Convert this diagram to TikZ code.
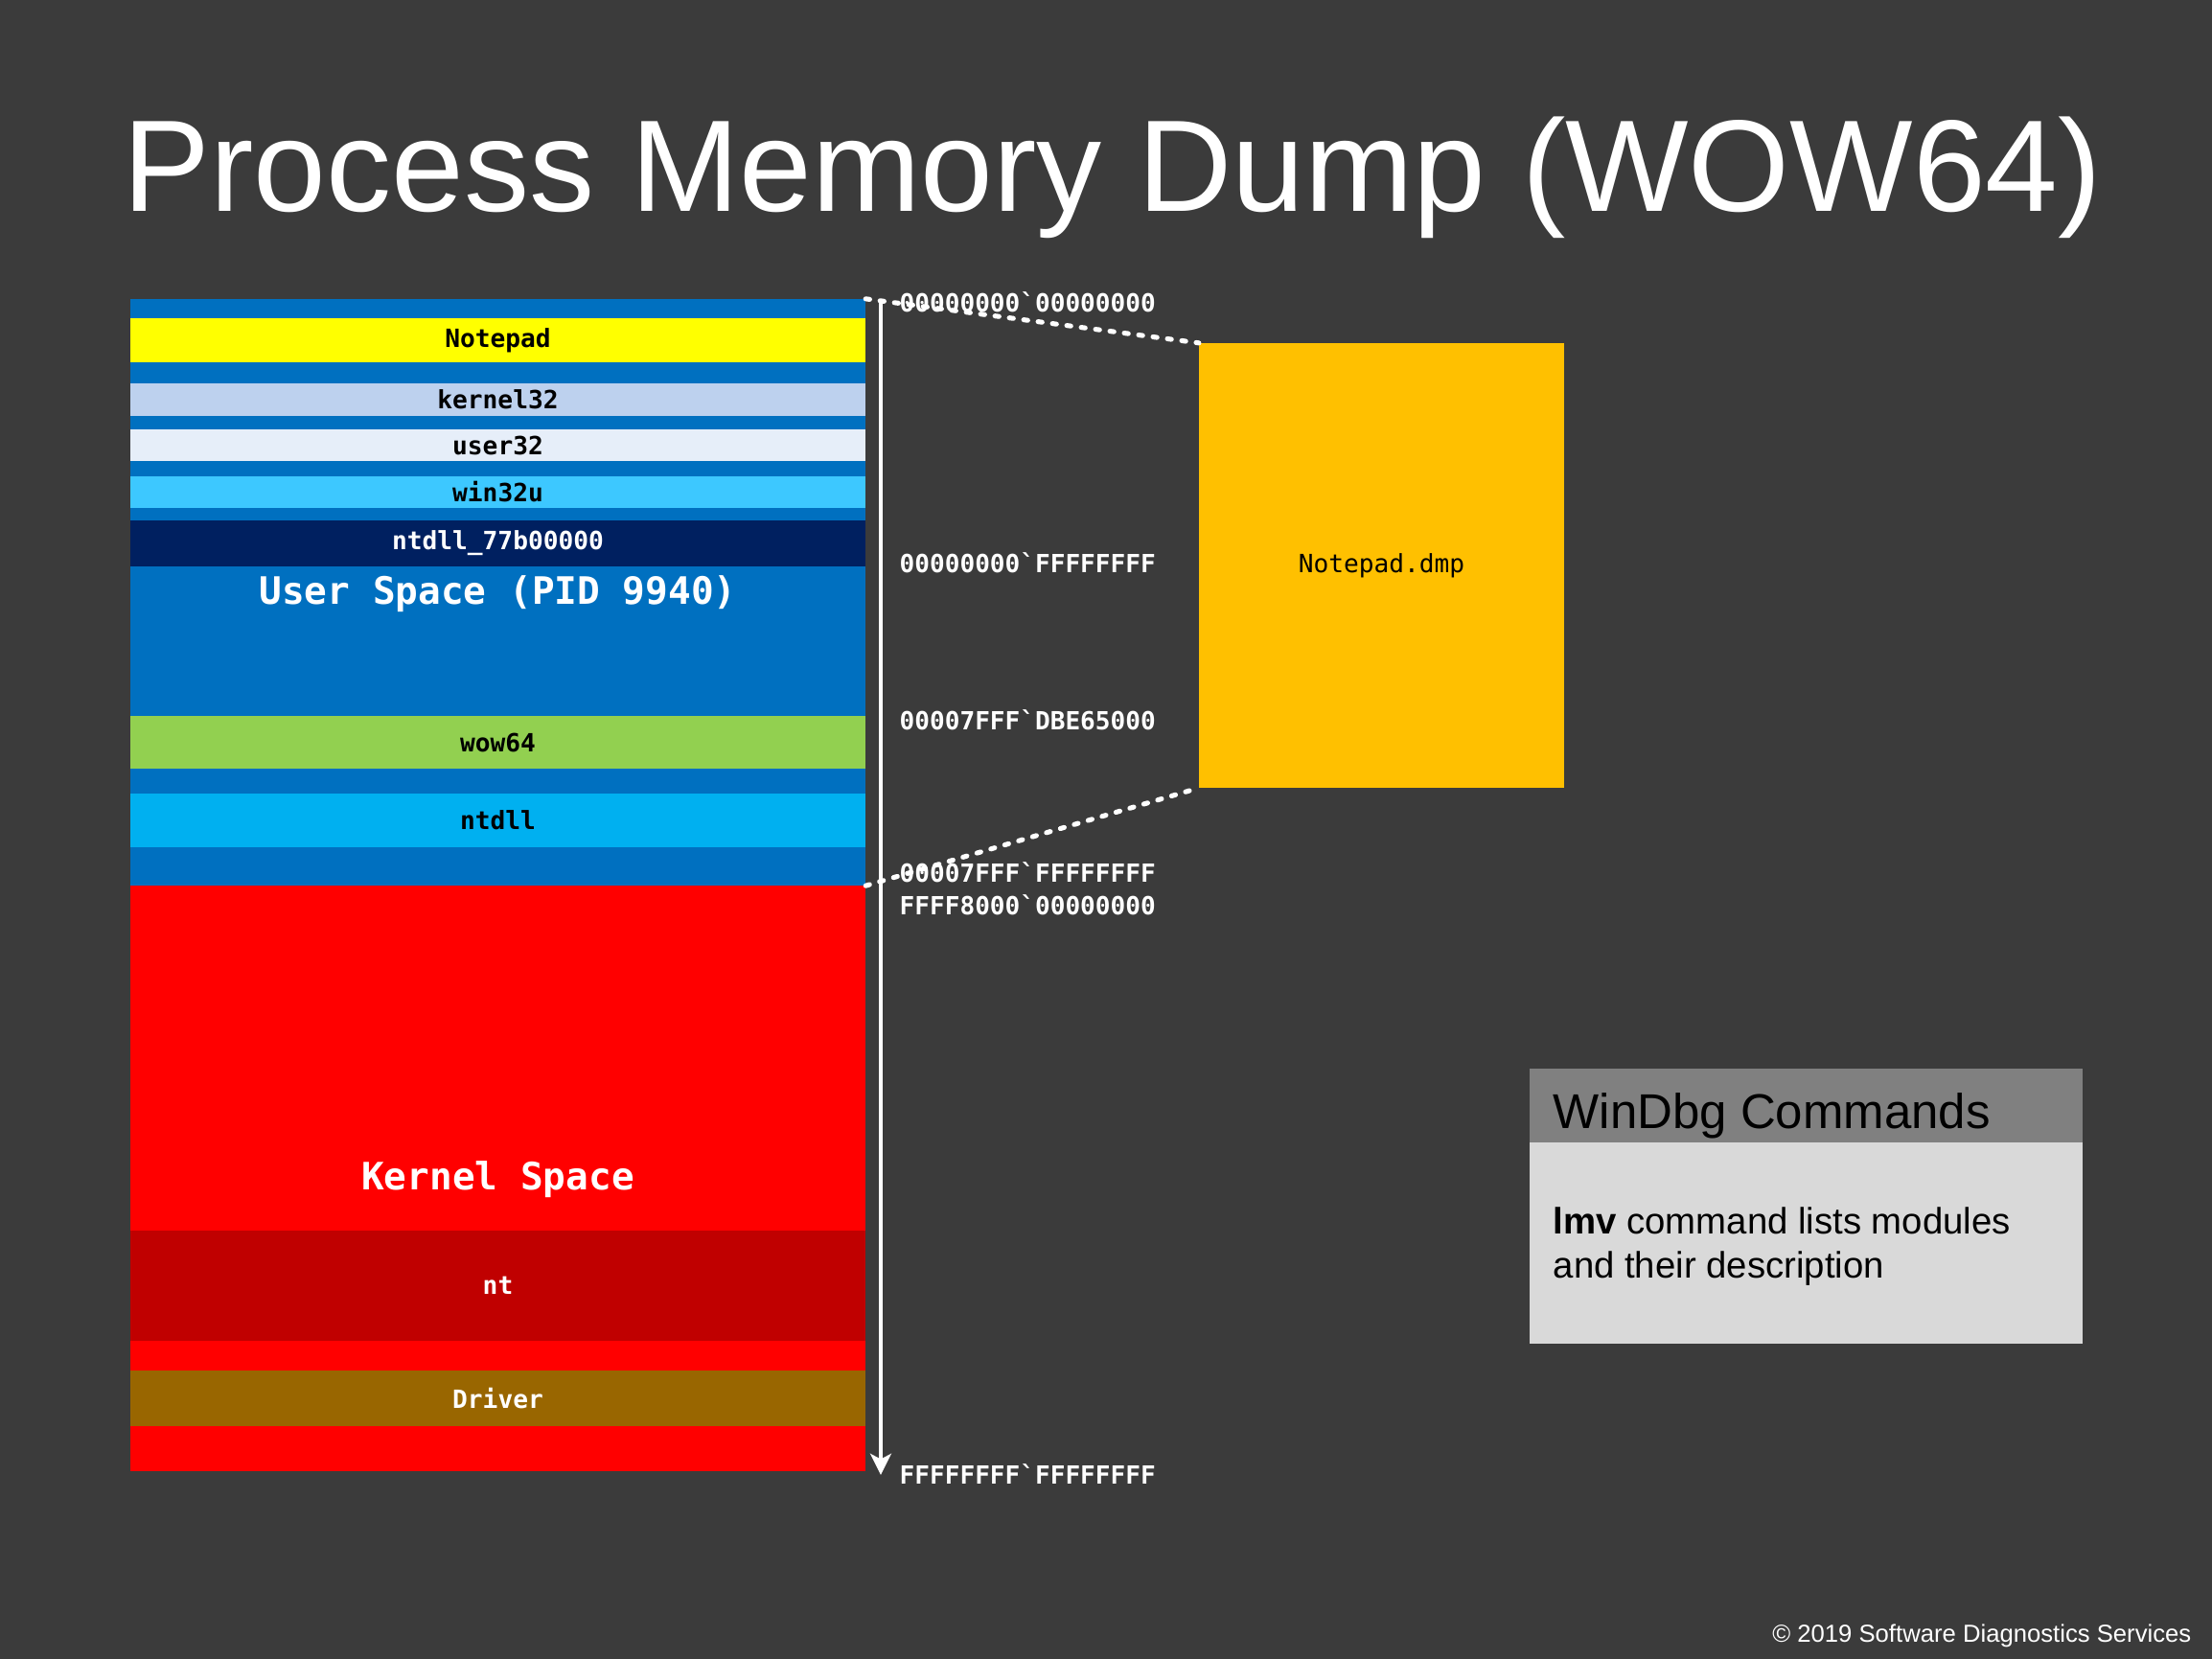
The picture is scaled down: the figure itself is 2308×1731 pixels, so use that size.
\documentclass[tikz,border=0pt]{standalone}
\usepackage{fontspec}
\setmainfont{Liberation Sans}
\newfontfamily\codefont{DejaVu Sans Mono}
\usetikzlibrary{positioning, arrows.meta}
\definecolor{slidebg}{RGB}{59,59,59}
\definecolor{userblue}{RGB}{0,112,192}
\definecolor{kernred}{RGB}{255,0,0}
\definecolor{modyellow}{RGB}{255,255,0}
\definecolor{modk32}{RGB}{189,209,238}
\definecolor{modu32}{RGB}{230,238,249}
\definecolor{modw32}{RGB}{61,200,255}
\definecolor{modnavy}{RGB}{0,32,96}
\definecolor{modwow}{RGB}{146,208,80}
\definecolor{modntdll}{RGB}{0,176,240}
\definecolor{modnt}{RGB}{192,0,0}
\definecolor{moddrv}{RGB}{153,102,0}
\definecolor{dumporange}{RGB}{255,192,0}
\definecolor{cmdhead}{RGB}{128,128,128}
\definecolor{cmdbody}{RGB}{217,217,217}

\begin{document}
\begin{tikzpicture}[
  x=0.01cm, y=-0.01cm,
  region/.style={inner sep=0, outer sep=0, minimum width=7.67cm},
  band/.style={region, font=\codefont\bfseries\fontsize{7.45pt}{9pt}\selectfont, text=black},
  spacelbl/.style={inner sep=0, text=white, font=\codefont\bfseries\fontsize{11.2pt}{13pt}\selectfont},
  addr/.style={anchor=west, inner sep=0, text=white, font=\codefont\bfseries\fontsize{7.42pt}{9pt}\selectfont},
  dumpb/.style={fill=dumporange, inner sep=0, outer sep=0, minimum width=3.81cm, minimum height=4.64cm,
                font=\codefont\fontsize{7.45pt}{9pt}\selectfont},
  zoomln/.style={draw=white, line width=1.45pt, dash pattern=on 1.2pt off 3.1pt, line cap=round},
  arr/.style={-{Stealth[length=6.3pt, width=6.2pt, inset=1.6pt]}, white, line width=1.15pt},
]
\useasboundingbox (0,0) rectangle (2308,1731);
\fill[slidebg] (0,0) rectangle (2308,1731);

% Title
\node[anchor=base, inner sep=0, text=white, font=\fontsize{38.7pt}{44pt}\selectfont] (title) at (1161,221)
  {Process Memory Dump (WOW64)};

% Address space column
\node[region, fill=userblue, minimum height=6.12cm] (user) at (519.5,618) {};
\node[region, fill=kernred, minimum height=6.11cm] (kern) at (519.5,1229.5) {};

% User modules
\node[band, fill=modyellow, minimum height=0.455cm] (notepad) at (519.5,355) {Notepad};
\node[band, fill=modk32, minimum height=0.33cm] (k32) at (519.5,417) {kernel32};
\node[band, fill=modu32, minimum height=0.33cm] (u32) at (519.5,464.5) {user32};
\node[band, fill=modw32, minimum height=0.33cm] (w32u) at (519.5,513.5) {win32u};
\node[band, fill=modnavy, text=white, minimum height=0.47cm] (ntdll32) at (519.5,567) {ntdll\_77b00000};
\node[spacelbl] (userlbl) at (519.5,620) {User Space (PID 9940)};
\node[band, fill=modwow, minimum height=0.55cm] (wow) at (519.5,774.5) {wow64};
\node[band, fill=modntdll, minimum height=0.55cm] (ntdll) at (519.5,856) {ntdll};

% Kernel modules
\node[spacelbl] (kernlbl) at (519.5,1231) {Kernel Space};
\node[band, fill=modnt, text=white, minimum height=1.15cm] (nt) at (519.5,1341.5) {nt};
\node[band, fill=moddrv, text=white, minimum height=0.58cm] (drv) at (519.5,1459) {Driver};

% Addresses
\node[addr] (a0) at (938,315) {00000000`00000000};
\node[addr] (a1) at (938,587) {00000000`FFFFFFFF};
\node[addr] (a2) at (938,751) {00007FFF`DBE65000};
\node[addr] (a3) at (938,910) {00007FFF`FFFFFFFF};
\node[addr] (a4) at (938,944) {FFFF8000`00000000};
\node[addr] (a5) at (938,1538) {FFFFFFFF`FFFFFFFF};

% Direction arrow
\coordinate (atop) at (919,313);
\coordinate (abot) at (919,1539);
\draw[arr] (atop) -- (abot);

% Dump file
\node[dumpb] (dmp) at (1441.5,590) {Notepad.dmp};
\draw[zoomln] (user.north east) -- (dmp.north west);
\draw[zoomln] (user.south east) -- (dmp.south west);

% WinDbg box
\node[fill=cmdhead, inner sep=0, outer sep=0, minimum width=5.77cm, minimum height=0.77cm] (cmdh) at (1884.5,1153.5) {};
\node[fill=cmdbody, inner sep=0, outer sep=0, minimum width=5.77cm, minimum height=2.1cm, below=0pt of cmdh] (cmdb) {};
\node[anchor=base west, inner sep=0, font=\fontsize{14.5pt}{17pt}\selectfont] (cmdt) at (1620,1177) {WinDbg Commands};
\node[anchor=west, inner sep=0, align=left, font=\fontsize{10.9pt}{13.1pt}\selectfont] (cmdtxt) at (1620,1301)
  {\textbf{lmv} command lists modules\\and their description};

% Footer
\node[anchor=base east, inner sep=0, text=white, font=\fontsize{7.3pt}{9pt}\selectfont] (copy) at (2287,1713)
  {\textcopyright{} 2019 Software Diagnostics Services};
\end{tikzpicture}
\end{document}
